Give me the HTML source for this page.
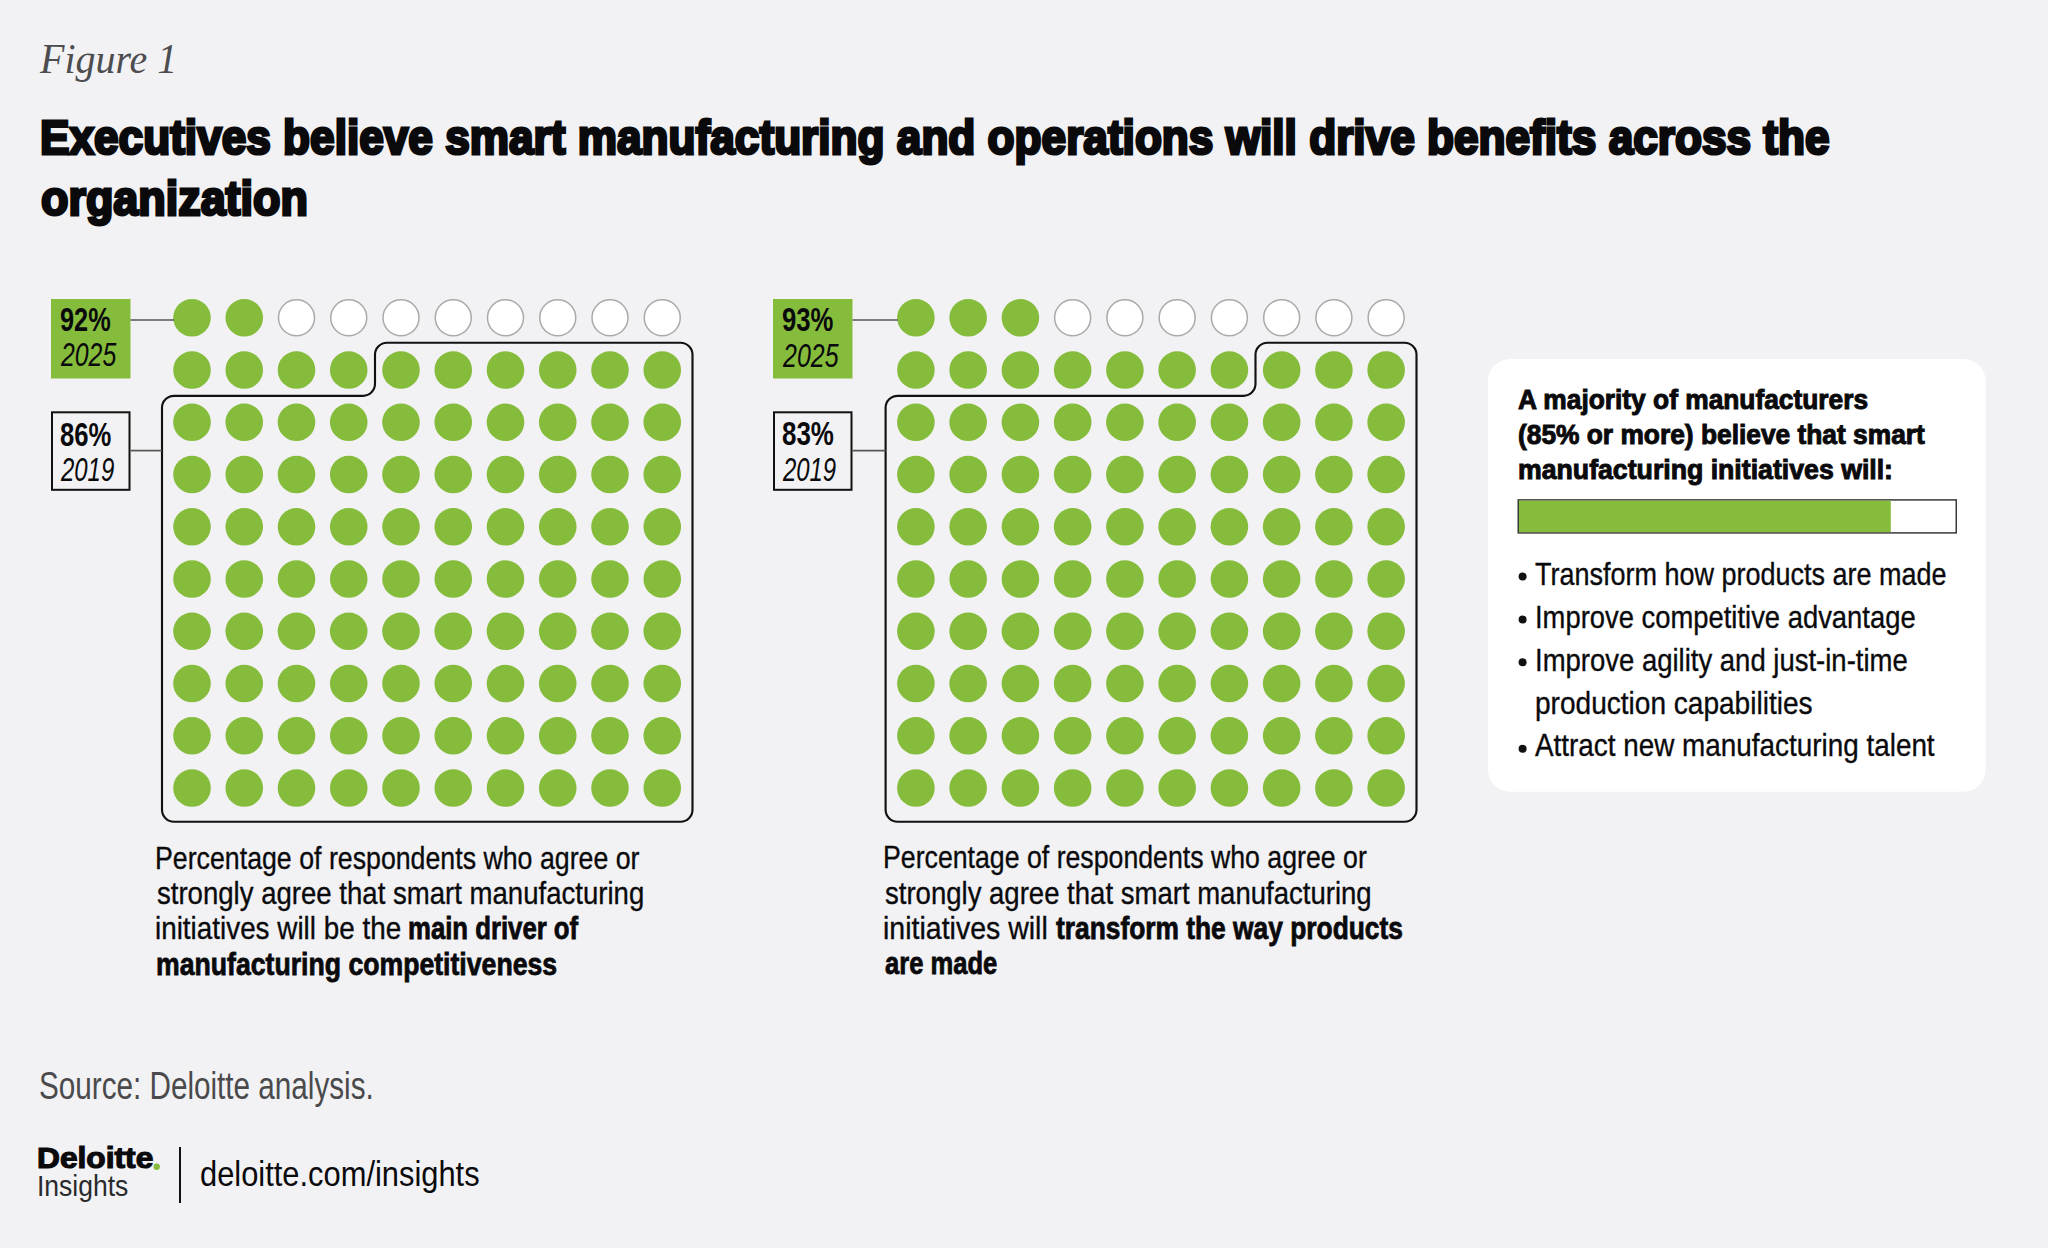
<!DOCTYPE html>
<html><head><meta charset="utf-8"><style>
html,body{margin:0;padding:0;}
body{width:2048px;height:1248px;background:#f2f2f4;position:relative;overflow:hidden;}
svg{position:absolute;left:0;top:0;}
.t{position:absolute;white-space:nowrap;line-height:1;transform-origin:0 0;}
</style></head><body>
<svg width="2048" height="1248" viewBox="0 0 2048 1248">
<circle cx="192.00" cy="317.80" r="18.8" fill="#86bc3c"/>
<circle cx="244.25" cy="317.80" r="18.8" fill="#86bc3c"/>
<circle cx="296.50" cy="317.80" r="18" fill="#fff" stroke="#aaaaaa" stroke-width="1.5"/>
<circle cx="348.75" cy="317.80" r="18" fill="#fff" stroke="#aaaaaa" stroke-width="1.5"/>
<circle cx="401.00" cy="317.80" r="18" fill="#fff" stroke="#aaaaaa" stroke-width="1.5"/>
<circle cx="453.25" cy="317.80" r="18" fill="#fff" stroke="#aaaaaa" stroke-width="1.5"/>
<circle cx="505.50" cy="317.80" r="18" fill="#fff" stroke="#aaaaaa" stroke-width="1.5"/>
<circle cx="557.75" cy="317.80" r="18" fill="#fff" stroke="#aaaaaa" stroke-width="1.5"/>
<circle cx="610.00" cy="317.80" r="18" fill="#fff" stroke="#aaaaaa" stroke-width="1.5"/>
<circle cx="662.25" cy="317.80" r="18" fill="#fff" stroke="#aaaaaa" stroke-width="1.5"/>
<circle cx="192.00" cy="370.05" r="18.8" fill="#86bc3c"/>
<circle cx="244.25" cy="370.05" r="18.8" fill="#86bc3c"/>
<circle cx="296.50" cy="370.05" r="18.8" fill="#86bc3c"/>
<circle cx="348.75" cy="370.05" r="18.8" fill="#86bc3c"/>
<circle cx="401.00" cy="370.05" r="18.8" fill="#86bc3c"/>
<circle cx="453.25" cy="370.05" r="18.8" fill="#86bc3c"/>
<circle cx="505.50" cy="370.05" r="18.8" fill="#86bc3c"/>
<circle cx="557.75" cy="370.05" r="18.8" fill="#86bc3c"/>
<circle cx="610.00" cy="370.05" r="18.8" fill="#86bc3c"/>
<circle cx="662.25" cy="370.05" r="18.8" fill="#86bc3c"/>
<circle cx="192.00" cy="422.30" r="18.8" fill="#86bc3c"/>
<circle cx="244.25" cy="422.30" r="18.8" fill="#86bc3c"/>
<circle cx="296.50" cy="422.30" r="18.8" fill="#86bc3c"/>
<circle cx="348.75" cy="422.30" r="18.8" fill="#86bc3c"/>
<circle cx="401.00" cy="422.30" r="18.8" fill="#86bc3c"/>
<circle cx="453.25" cy="422.30" r="18.8" fill="#86bc3c"/>
<circle cx="505.50" cy="422.30" r="18.8" fill="#86bc3c"/>
<circle cx="557.75" cy="422.30" r="18.8" fill="#86bc3c"/>
<circle cx="610.00" cy="422.30" r="18.8" fill="#86bc3c"/>
<circle cx="662.25" cy="422.30" r="18.8" fill="#86bc3c"/>
<circle cx="192.00" cy="474.55" r="18.8" fill="#86bc3c"/>
<circle cx="244.25" cy="474.55" r="18.8" fill="#86bc3c"/>
<circle cx="296.50" cy="474.55" r="18.8" fill="#86bc3c"/>
<circle cx="348.75" cy="474.55" r="18.8" fill="#86bc3c"/>
<circle cx="401.00" cy="474.55" r="18.8" fill="#86bc3c"/>
<circle cx="453.25" cy="474.55" r="18.8" fill="#86bc3c"/>
<circle cx="505.50" cy="474.55" r="18.8" fill="#86bc3c"/>
<circle cx="557.75" cy="474.55" r="18.8" fill="#86bc3c"/>
<circle cx="610.00" cy="474.55" r="18.8" fill="#86bc3c"/>
<circle cx="662.25" cy="474.55" r="18.8" fill="#86bc3c"/>
<circle cx="192.00" cy="526.80" r="18.8" fill="#86bc3c"/>
<circle cx="244.25" cy="526.80" r="18.8" fill="#86bc3c"/>
<circle cx="296.50" cy="526.80" r="18.8" fill="#86bc3c"/>
<circle cx="348.75" cy="526.80" r="18.8" fill="#86bc3c"/>
<circle cx="401.00" cy="526.80" r="18.8" fill="#86bc3c"/>
<circle cx="453.25" cy="526.80" r="18.8" fill="#86bc3c"/>
<circle cx="505.50" cy="526.80" r="18.8" fill="#86bc3c"/>
<circle cx="557.75" cy="526.80" r="18.8" fill="#86bc3c"/>
<circle cx="610.00" cy="526.80" r="18.8" fill="#86bc3c"/>
<circle cx="662.25" cy="526.80" r="18.8" fill="#86bc3c"/>
<circle cx="192.00" cy="579.05" r="18.8" fill="#86bc3c"/>
<circle cx="244.25" cy="579.05" r="18.8" fill="#86bc3c"/>
<circle cx="296.50" cy="579.05" r="18.8" fill="#86bc3c"/>
<circle cx="348.75" cy="579.05" r="18.8" fill="#86bc3c"/>
<circle cx="401.00" cy="579.05" r="18.8" fill="#86bc3c"/>
<circle cx="453.25" cy="579.05" r="18.8" fill="#86bc3c"/>
<circle cx="505.50" cy="579.05" r="18.8" fill="#86bc3c"/>
<circle cx="557.75" cy="579.05" r="18.8" fill="#86bc3c"/>
<circle cx="610.00" cy="579.05" r="18.8" fill="#86bc3c"/>
<circle cx="662.25" cy="579.05" r="18.8" fill="#86bc3c"/>
<circle cx="192.00" cy="631.30" r="18.8" fill="#86bc3c"/>
<circle cx="244.25" cy="631.30" r="18.8" fill="#86bc3c"/>
<circle cx="296.50" cy="631.30" r="18.8" fill="#86bc3c"/>
<circle cx="348.75" cy="631.30" r="18.8" fill="#86bc3c"/>
<circle cx="401.00" cy="631.30" r="18.8" fill="#86bc3c"/>
<circle cx="453.25" cy="631.30" r="18.8" fill="#86bc3c"/>
<circle cx="505.50" cy="631.30" r="18.8" fill="#86bc3c"/>
<circle cx="557.75" cy="631.30" r="18.8" fill="#86bc3c"/>
<circle cx="610.00" cy="631.30" r="18.8" fill="#86bc3c"/>
<circle cx="662.25" cy="631.30" r="18.8" fill="#86bc3c"/>
<circle cx="192.00" cy="683.55" r="18.8" fill="#86bc3c"/>
<circle cx="244.25" cy="683.55" r="18.8" fill="#86bc3c"/>
<circle cx="296.50" cy="683.55" r="18.8" fill="#86bc3c"/>
<circle cx="348.75" cy="683.55" r="18.8" fill="#86bc3c"/>
<circle cx="401.00" cy="683.55" r="18.8" fill="#86bc3c"/>
<circle cx="453.25" cy="683.55" r="18.8" fill="#86bc3c"/>
<circle cx="505.50" cy="683.55" r="18.8" fill="#86bc3c"/>
<circle cx="557.75" cy="683.55" r="18.8" fill="#86bc3c"/>
<circle cx="610.00" cy="683.55" r="18.8" fill="#86bc3c"/>
<circle cx="662.25" cy="683.55" r="18.8" fill="#86bc3c"/>
<circle cx="192.00" cy="735.80" r="18.8" fill="#86bc3c"/>
<circle cx="244.25" cy="735.80" r="18.8" fill="#86bc3c"/>
<circle cx="296.50" cy="735.80" r="18.8" fill="#86bc3c"/>
<circle cx="348.75" cy="735.80" r="18.8" fill="#86bc3c"/>
<circle cx="401.00" cy="735.80" r="18.8" fill="#86bc3c"/>
<circle cx="453.25" cy="735.80" r="18.8" fill="#86bc3c"/>
<circle cx="505.50" cy="735.80" r="18.8" fill="#86bc3c"/>
<circle cx="557.75" cy="735.80" r="18.8" fill="#86bc3c"/>
<circle cx="610.00" cy="735.80" r="18.8" fill="#86bc3c"/>
<circle cx="662.25" cy="735.80" r="18.8" fill="#86bc3c"/>
<circle cx="192.00" cy="788.05" r="18.8" fill="#86bc3c"/>
<circle cx="244.25" cy="788.05" r="18.8" fill="#86bc3c"/>
<circle cx="296.50" cy="788.05" r="18.8" fill="#86bc3c"/>
<circle cx="348.75" cy="788.05" r="18.8" fill="#86bc3c"/>
<circle cx="401.00" cy="788.05" r="18.8" fill="#86bc3c"/>
<circle cx="453.25" cy="788.05" r="18.8" fill="#86bc3c"/>
<circle cx="505.50" cy="788.05" r="18.8" fill="#86bc3c"/>
<circle cx="557.75" cy="788.05" r="18.8" fill="#86bc3c"/>
<circle cx="610.00" cy="788.05" r="18.8" fill="#86bc3c"/>
<circle cx="662.25" cy="788.05" r="18.8" fill="#86bc3c"/>
<path d="M162,809.7 L162,407.8 A12,12 0 0 1 174,395.8 L363,395.8 A12,12 0 0 0 375,383.8 L375,354.7 A12,12 0 0 1 387,342.7 L680.5,342.7 A12,12 0 0 1 692.5,354.7 L692.5,809.7 A12,12 0 0 1 680.5,821.7 L174,821.7 A12,12 0 0 1 162,809.7 Z" fill="none" stroke="#111" stroke-width="2.15"/>
<rect x="51" y="299" width="79.5" height="79.5" fill="#86bc3c"/>
<rect x="52" y="412.3" width="77.5" height="77.5" fill="none" stroke="#111" stroke-width="2"/>
<line x1="130.5" y1="320" x2="174.0" y2="320" stroke="#555" stroke-width="1.7"/>
<line x1="130.5" y1="450.6" x2="162" y2="450.6" stroke="#555" stroke-width="1.7"/>
<circle cx="915.90" cy="317.80" r="18.8" fill="#86bc3c"/>
<circle cx="968.15" cy="317.80" r="18.8" fill="#86bc3c"/>
<circle cx="1020.40" cy="317.80" r="18.8" fill="#86bc3c"/>
<circle cx="1072.65" cy="317.80" r="18" fill="#fff" stroke="#aaaaaa" stroke-width="1.5"/>
<circle cx="1124.90" cy="317.80" r="18" fill="#fff" stroke="#aaaaaa" stroke-width="1.5"/>
<circle cx="1177.15" cy="317.80" r="18" fill="#fff" stroke="#aaaaaa" stroke-width="1.5"/>
<circle cx="1229.40" cy="317.80" r="18" fill="#fff" stroke="#aaaaaa" stroke-width="1.5"/>
<circle cx="1281.65" cy="317.80" r="18" fill="#fff" stroke="#aaaaaa" stroke-width="1.5"/>
<circle cx="1333.90" cy="317.80" r="18" fill="#fff" stroke="#aaaaaa" stroke-width="1.5"/>
<circle cx="1386.15" cy="317.80" r="18" fill="#fff" stroke="#aaaaaa" stroke-width="1.5"/>
<circle cx="915.90" cy="370.05" r="18.8" fill="#86bc3c"/>
<circle cx="968.15" cy="370.05" r="18.8" fill="#86bc3c"/>
<circle cx="1020.40" cy="370.05" r="18.8" fill="#86bc3c"/>
<circle cx="1072.65" cy="370.05" r="18.8" fill="#86bc3c"/>
<circle cx="1124.90" cy="370.05" r="18.8" fill="#86bc3c"/>
<circle cx="1177.15" cy="370.05" r="18.8" fill="#86bc3c"/>
<circle cx="1229.40" cy="370.05" r="18.8" fill="#86bc3c"/>
<circle cx="1281.65" cy="370.05" r="18.8" fill="#86bc3c"/>
<circle cx="1333.90" cy="370.05" r="18.8" fill="#86bc3c"/>
<circle cx="1386.15" cy="370.05" r="18.8" fill="#86bc3c"/>
<circle cx="915.90" cy="422.30" r="18.8" fill="#86bc3c"/>
<circle cx="968.15" cy="422.30" r="18.8" fill="#86bc3c"/>
<circle cx="1020.40" cy="422.30" r="18.8" fill="#86bc3c"/>
<circle cx="1072.65" cy="422.30" r="18.8" fill="#86bc3c"/>
<circle cx="1124.90" cy="422.30" r="18.8" fill="#86bc3c"/>
<circle cx="1177.15" cy="422.30" r="18.8" fill="#86bc3c"/>
<circle cx="1229.40" cy="422.30" r="18.8" fill="#86bc3c"/>
<circle cx="1281.65" cy="422.30" r="18.8" fill="#86bc3c"/>
<circle cx="1333.90" cy="422.30" r="18.8" fill="#86bc3c"/>
<circle cx="1386.15" cy="422.30" r="18.8" fill="#86bc3c"/>
<circle cx="915.90" cy="474.55" r="18.8" fill="#86bc3c"/>
<circle cx="968.15" cy="474.55" r="18.8" fill="#86bc3c"/>
<circle cx="1020.40" cy="474.55" r="18.8" fill="#86bc3c"/>
<circle cx="1072.65" cy="474.55" r="18.8" fill="#86bc3c"/>
<circle cx="1124.90" cy="474.55" r="18.8" fill="#86bc3c"/>
<circle cx="1177.15" cy="474.55" r="18.8" fill="#86bc3c"/>
<circle cx="1229.40" cy="474.55" r="18.8" fill="#86bc3c"/>
<circle cx="1281.65" cy="474.55" r="18.8" fill="#86bc3c"/>
<circle cx="1333.90" cy="474.55" r="18.8" fill="#86bc3c"/>
<circle cx="1386.15" cy="474.55" r="18.8" fill="#86bc3c"/>
<circle cx="915.90" cy="526.80" r="18.8" fill="#86bc3c"/>
<circle cx="968.15" cy="526.80" r="18.8" fill="#86bc3c"/>
<circle cx="1020.40" cy="526.80" r="18.8" fill="#86bc3c"/>
<circle cx="1072.65" cy="526.80" r="18.8" fill="#86bc3c"/>
<circle cx="1124.90" cy="526.80" r="18.8" fill="#86bc3c"/>
<circle cx="1177.15" cy="526.80" r="18.8" fill="#86bc3c"/>
<circle cx="1229.40" cy="526.80" r="18.8" fill="#86bc3c"/>
<circle cx="1281.65" cy="526.80" r="18.8" fill="#86bc3c"/>
<circle cx="1333.90" cy="526.80" r="18.8" fill="#86bc3c"/>
<circle cx="1386.15" cy="526.80" r="18.8" fill="#86bc3c"/>
<circle cx="915.90" cy="579.05" r="18.8" fill="#86bc3c"/>
<circle cx="968.15" cy="579.05" r="18.8" fill="#86bc3c"/>
<circle cx="1020.40" cy="579.05" r="18.8" fill="#86bc3c"/>
<circle cx="1072.65" cy="579.05" r="18.8" fill="#86bc3c"/>
<circle cx="1124.90" cy="579.05" r="18.8" fill="#86bc3c"/>
<circle cx="1177.15" cy="579.05" r="18.8" fill="#86bc3c"/>
<circle cx="1229.40" cy="579.05" r="18.8" fill="#86bc3c"/>
<circle cx="1281.65" cy="579.05" r="18.8" fill="#86bc3c"/>
<circle cx="1333.90" cy="579.05" r="18.8" fill="#86bc3c"/>
<circle cx="1386.15" cy="579.05" r="18.8" fill="#86bc3c"/>
<circle cx="915.90" cy="631.30" r="18.8" fill="#86bc3c"/>
<circle cx="968.15" cy="631.30" r="18.8" fill="#86bc3c"/>
<circle cx="1020.40" cy="631.30" r="18.8" fill="#86bc3c"/>
<circle cx="1072.65" cy="631.30" r="18.8" fill="#86bc3c"/>
<circle cx="1124.90" cy="631.30" r="18.8" fill="#86bc3c"/>
<circle cx="1177.15" cy="631.30" r="18.8" fill="#86bc3c"/>
<circle cx="1229.40" cy="631.30" r="18.8" fill="#86bc3c"/>
<circle cx="1281.65" cy="631.30" r="18.8" fill="#86bc3c"/>
<circle cx="1333.90" cy="631.30" r="18.8" fill="#86bc3c"/>
<circle cx="1386.15" cy="631.30" r="18.8" fill="#86bc3c"/>
<circle cx="915.90" cy="683.55" r="18.8" fill="#86bc3c"/>
<circle cx="968.15" cy="683.55" r="18.8" fill="#86bc3c"/>
<circle cx="1020.40" cy="683.55" r="18.8" fill="#86bc3c"/>
<circle cx="1072.65" cy="683.55" r="18.8" fill="#86bc3c"/>
<circle cx="1124.90" cy="683.55" r="18.8" fill="#86bc3c"/>
<circle cx="1177.15" cy="683.55" r="18.8" fill="#86bc3c"/>
<circle cx="1229.40" cy="683.55" r="18.8" fill="#86bc3c"/>
<circle cx="1281.65" cy="683.55" r="18.8" fill="#86bc3c"/>
<circle cx="1333.90" cy="683.55" r="18.8" fill="#86bc3c"/>
<circle cx="1386.15" cy="683.55" r="18.8" fill="#86bc3c"/>
<circle cx="915.90" cy="735.80" r="18.8" fill="#86bc3c"/>
<circle cx="968.15" cy="735.80" r="18.8" fill="#86bc3c"/>
<circle cx="1020.40" cy="735.80" r="18.8" fill="#86bc3c"/>
<circle cx="1072.65" cy="735.80" r="18.8" fill="#86bc3c"/>
<circle cx="1124.90" cy="735.80" r="18.8" fill="#86bc3c"/>
<circle cx="1177.15" cy="735.80" r="18.8" fill="#86bc3c"/>
<circle cx="1229.40" cy="735.80" r="18.8" fill="#86bc3c"/>
<circle cx="1281.65" cy="735.80" r="18.8" fill="#86bc3c"/>
<circle cx="1333.90" cy="735.80" r="18.8" fill="#86bc3c"/>
<circle cx="1386.15" cy="735.80" r="18.8" fill="#86bc3c"/>
<circle cx="915.90" cy="788.05" r="18.8" fill="#86bc3c"/>
<circle cx="968.15" cy="788.05" r="18.8" fill="#86bc3c"/>
<circle cx="1020.40" cy="788.05" r="18.8" fill="#86bc3c"/>
<circle cx="1072.65" cy="788.05" r="18.8" fill="#86bc3c"/>
<circle cx="1124.90" cy="788.05" r="18.8" fill="#86bc3c"/>
<circle cx="1177.15" cy="788.05" r="18.8" fill="#86bc3c"/>
<circle cx="1229.40" cy="788.05" r="18.8" fill="#86bc3c"/>
<circle cx="1281.65" cy="788.05" r="18.8" fill="#86bc3c"/>
<circle cx="1333.90" cy="788.05" r="18.8" fill="#86bc3c"/>
<circle cx="1386.15" cy="788.05" r="18.8" fill="#86bc3c"/>
<path d="M885.6,809.7 L885.6,407.8 A12,12 0 0 1 897.6,395.8 L1243.5,395.8 A12,12 0 0 0 1255.5,383.8 L1255.5,354.7 A12,12 0 0 1 1267.5,342.7 L1404.5,342.7 A12,12 0 0 1 1416.5,354.7 L1416.5,809.7 A12,12 0 0 1 1404.5,821.7 L897.6,821.7 A12,12 0 0 1 885.6,809.7 Z" fill="none" stroke="#111" stroke-width="2.15"/>
<rect x="773" y="299" width="79.5" height="79.5" fill="#86bc3c"/>
<rect x="774" y="412.3" width="77.5" height="77.5" fill="none" stroke="#111" stroke-width="2"/>
<line x1="852.5" y1="320" x2="897.9" y2="320" stroke="#555" stroke-width="1.7"/>
<line x1="852.5" y1="450.6" x2="885.6" y2="450.6" stroke="#555" stroke-width="1.7"/>
<rect x="1488" y="359" width="497.6" height="432.7" rx="22" fill="#fff"/>
<rect x="1518.25" y="499.9" width="438" height="33" fill="#fff" stroke="#3a3a3a" stroke-width="1.5"/>
<rect x="1519" y="500.65" width="371.8" height="31.5" fill="#86bc3c"/>
<circle cx="1522.6" cy="576.5" r="4" fill="#111"/>
<circle cx="1522.6" cy="619.6" r="4" fill="#111"/>
<circle cx="1522.6" cy="662.3" r="4" fill="#111"/>
<circle cx="1522.6" cy="748.8" r="4" fill="#111"/>
<line x1="180" y1="1147" x2="180" y2="1203" stroke="#111" stroke-width="2"/>
<circle cx="156.7" cy="1166.7" r="3.2" fill="#86bc3c"/>
</svg>
<div class="t" style="left:39.95px;top:37.50px;font-family:'Liberation Serif', serif;font-size:42px;color:#4d4d50;transform:scaleX(0.9508);"><span style="font-weight:400;font-style:italic">Figure 1</span></div>
<div class="t" style="left:40.15px;top:112.50px;font-family:'Liberation Sans', sans-serif;font-size:49px;color:#0a0a0c;transform:scaleX(0.9015);-webkit-text-stroke:3px #0a0a0c;"><span style="font-weight:700;font-style:normal">Executives believe smart manufacturing and operations will drive benefits across the</span></div>
<div class="t" style="left:41.46px;top:174.00px;font-family:'Liberation Sans', sans-serif;font-size:49px;color:#0a0a0c;transform:scaleX(0.9162);-webkit-text-stroke:3px #0a0a0c;"><span style="font-weight:700;font-style:normal">organization</span></div>
<div class="t" style="left:59.56px;top:302.00px;font-family:'Liberation Sans', sans-serif;font-size:34px;color:#0a0a0c;transform:scaleX(0.7438);"><span style="font-weight:700;font-style:normal">92%</span></div>
<div class="t" style="left:60.73px;top:337.00px;font-family:'Liberation Sans', sans-serif;font-size:34px;color:#0a0a0c;transform:scaleX(0.7299);"><span style="font-weight:400;font-style:italic">2025</span></div>
<div class="t" style="left:59.85px;top:416.60px;font-family:'Liberation Sans', sans-serif;font-size:34px;color:#0a0a0c;transform:scaleX(0.7543);"><span style="font-weight:700;font-style:normal">86%</span></div>
<div class="t" style="left:60.70px;top:451.80px;font-family:'Liberation Sans', sans-serif;font-size:34px;color:#0a0a0c;transform:scaleX(0.7038);"><span style="font-weight:400;font-style:italic">2019</span></div>
<div class="t" style="left:782.44px;top:302.20px;font-family:'Liberation Sans', sans-serif;font-size:34px;color:#0a0a0c;transform:scaleX(0.7558);"><span style="font-weight:700;font-style:normal">93%</span></div>
<div class="t" style="left:783.43px;top:337.60px;font-family:'Liberation Sans', sans-serif;font-size:34px;color:#0a0a0c;transform:scaleX(0.7338);"><span style="font-weight:400;font-style:italic">2025</span></div>
<div class="t" style="left:782.24px;top:415.80px;font-family:'Liberation Sans', sans-serif;font-size:34px;color:#0a0a0c;transform:scaleX(0.7633);"><span style="font-weight:700;font-style:normal">83%</span></div>
<div class="t" style="left:783.40px;top:452.00px;font-family:'Liberation Sans', sans-serif;font-size:34px;color:#0a0a0c;transform:scaleX(0.7025);"><span style="font-weight:400;font-style:italic">2019</span></div>
<div class="t" style="left:155.48px;top:841.83px;font-family:'Liberation Sans', sans-serif;font-size:32px;color:#0a0a0c;transform:scaleX(0.8354);-webkit-text-stroke:0.35px #0a0a0c;"><span style="font-weight:400;font-style:normal">Percentage of respondents who agree or</span></div>
<div class="t" style="left:157.15px;top:877.33px;font-family:'Liberation Sans', sans-serif;font-size:32px;color:#0a0a0c;transform:scaleX(0.8615);-webkit-text-stroke:0.35px #0a0a0c;"><span style="font-weight:400;font-style:normal">strongly agree that smart manufacturing</span></div>
<div class="t" style="left:155.41px;top:912.43px;font-family:'Liberation Sans', sans-serif;font-size:32px;color:#0a0a0c;transform:scaleX(0.8703);-webkit-text-stroke:0.35px #0a0a0c;"><span style="font-weight:400;font-style:normal">initiatives will be the</span></div>
<div class="t" style="left:407.97px;top:913.20px;font-family:'Liberation Sans', sans-serif;font-size:31px;color:#0a0a0c;transform:scaleX(0.8299);-webkit-text-stroke:0.8px #0a0a0c;"><span style="font-weight:700;font-style:normal">main driver of</span></div>
<div class="t" style="left:155.63px;top:948.60px;font-family:'Liberation Sans', sans-serif;font-size:31px;color:#0a0a0c;transform:scaleX(0.8592);-webkit-text-stroke:0.8px #0a0a0c;"><span style="font-weight:700;font-style:normal">manufacturing competitiveness</span></div>
<div class="t" style="left:883.48px;top:841.33px;font-family:'Liberation Sans', sans-serif;font-size:32px;color:#0a0a0c;transform:scaleX(0.8342);-webkit-text-stroke:0.35px #0a0a0c;"><span style="font-weight:400;font-style:normal">Percentage of respondents who agree or</span></div>
<div class="t" style="left:885.15px;top:877.23px;font-family:'Liberation Sans', sans-serif;font-size:32px;color:#0a0a0c;transform:scaleX(0.8604);-webkit-text-stroke:0.35px #0a0a0c;"><span style="font-weight:400;font-style:normal">strongly agree that smart manufacturing</span></div>
<div class="t" style="left:883.37px;top:912.23px;font-family:'Liberation Sans', sans-serif;font-size:32px;color:#0a0a0c;transform:scaleX(0.8908);-webkit-text-stroke:0.35px #0a0a0c;"><span style="font-weight:400;font-style:normal">initiatives will</span></div>
<div class="t" style="left:1055.74px;top:913.00px;font-family:'Liberation Sans', sans-serif;font-size:31px;color:#0a0a0c;transform:scaleX(0.8497);-webkit-text-stroke:0.8px #0a0a0c;"><span style="font-weight:700;font-style:normal">transform the way products</span></div>
<div class="t" style="left:885.33px;top:948.00px;font-family:'Liberation Sans', sans-serif;font-size:31px;color:#0a0a0c;transform:scaleX(0.8244);-webkit-text-stroke:0.8px #0a0a0c;"><span style="font-weight:700;font-style:normal">are made</span></div>
<div class="t" style="left:1518.47px;top:386.30px;font-family:'Liberation Sans', sans-serif;font-size:28px;color:#0a0a0c;transform:scaleX(0.9402);-webkit-text-stroke:1px #0a0a0c;"><span style="font-weight:700;font-style:normal">A majority of manufacturers</span></div>
<div class="t" style="left:1517.53px;top:421.10px;font-family:'Liberation Sans', sans-serif;font-size:28px;color:#0a0a0c;transform:scaleX(0.9404);-webkit-text-stroke:1px #0a0a0c;"><span style="font-weight:700;font-style:normal">(85% or more) believe that smart</span></div>
<div class="t" style="left:1517.52px;top:455.90px;font-family:'Liberation Sans', sans-serif;font-size:28px;color:#0a0a0c;transform:scaleX(0.9527);-webkit-text-stroke:1px #0a0a0c;"><span style="font-weight:700;font-style:normal">manufacturing initiatives will:</span></div>
<div class="t" style="left:1534.75px;top:557.62px;font-family:'Liberation Sans', sans-serif;font-size:32px;color:#0a0a0c;transform:scaleX(0.8434);-webkit-text-stroke:0.35px #0a0a0c;"><span style="font-weight:400;font-style:normal">Transform how products are made</span></div>
<div class="t" style="left:1534.84px;top:601.43px;font-family:'Liberation Sans', sans-serif;font-size:32px;color:#0a0a0c;transform:scaleX(0.8559);-webkit-text-stroke:0.35px #0a0a0c;"><span style="font-weight:400;font-style:normal">Improve competitive advantage</span></div>
<div class="t" style="left:1534.83px;top:644.12px;font-family:'Liberation Sans', sans-serif;font-size:32px;color:#0a0a0c;transform:scaleX(0.8589);-webkit-text-stroke:0.35px #0a0a0c;"><span style="font-weight:400;font-style:normal">Improve agility and just-in-time</span></div>
<div class="t" style="left:1534.80px;top:686.83px;font-family:'Liberation Sans', sans-serif;font-size:32px;color:#0a0a0c;transform:scaleX(0.8765);-webkit-text-stroke:0.35px #0a0a0c;"><span style="font-weight:400;font-style:normal">production capabilities</span></div>
<div class="t" style="left:1535.15px;top:729.43px;font-family:'Liberation Sans', sans-serif;font-size:32px;color:#0a0a0c;transform:scaleX(0.8708);-webkit-text-stroke:0.35px #0a0a0c;"><span style="font-weight:400;font-style:normal">Attract new manufacturing talent</span></div>
<div class="t" style="left:38.82px;top:1066.80px;font-family:'Liberation Sans', sans-serif;font-size:38px;color:#4a4a4c;transform:scaleX(0.7808);"><span style="font-weight:400;font-style:normal">Source: Deloitte analysis.</span></div>
<div class="t" style="left:36.82px;top:1143.40px;font-family:'Liberation Sans', sans-serif;font-size:30px;color:#0a0a0c;transform:scaleX(1.0569);-webkit-text-stroke:1.2px #0a0a0c;"><span style="font-weight:700;font-style:normal">Deloitte</span></div>
<div class="t" style="left:37.03px;top:1171.00px;font-family:'Liberation Sans', sans-serif;font-size:30px;color:#2a2a2c;transform:scaleX(0.8836);"><span style="font-weight:400;font-style:normal">Insights</span></div>
<div class="t" style="left:199.82px;top:1155.50px;font-family:'Liberation Sans', sans-serif;font-size:35px;color:#0a0a0c;transform:scaleX(0.8818);"><span style="font-weight:400;font-style:normal">deloitte.com/insights</span></div>
</body></html>
